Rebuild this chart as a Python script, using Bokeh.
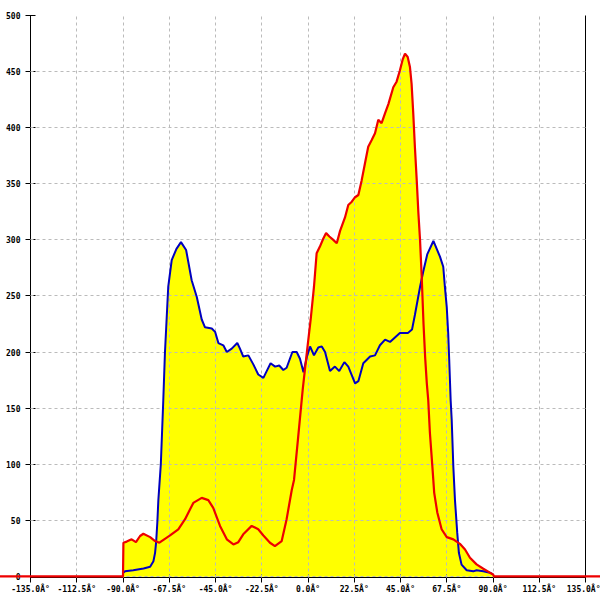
from bokeh.plotting import figure
from bokeh.models import FixedTicker, LinearAxis, Range1d
from bokeh.embed import file_html
from bokeh.resources import INLINE

# ---- data ----
angles_blue = [-90.0, -89.0, -85.0, -80.0, -76.8, -75.2, -74.4, -73.9, -73.3, -72.8, -71.6, -70.4,
               -69.6, -68.0, -66.3, -64.0, -61.8, -59.3, -56.6, -54.1, -51.7, -50.1, -46.8, -45.2,
               -43.6, -41.2, -39.5, -37.1, -34.4, -33.1, -31.5, -29.0, -26.6, -24.2, -21.7, -20.1,
               -18.2, -16.0, -14.0, -12.0, -10.4, -7.6, -5.5, -3.9, -2.2, -0.5, 1.0, 2.9, 5.0, 6.7,
               8.3, 10.7, 13.1, 15.2, 17.7, 19.6, 22.9, 24.5, 26.9, 30.2, 32.6, 35.0, 37.5, 39.9,
               42.3, 44.7, 48.6, 50.6, 52.0, 54.5, 56.1, 58.0, 61.0, 64.2, 65.8, 66.6, 67.5, 68.2,
               68.7, 69.4, 69.9, 70.7, 71.5, 72.6, 73.4, 74.7, 77.2, 80.4, 82.0, 85.3, 88.5, 90.0]
blue_vals = [3, 4.5, 5.5, 7, 8.5, 13.5, 21, 30, 48, 68, 100, 157,
             199, 258, 282, 292, 298, 291, 264, 249, 229, 222, 221, 218,
             208, 206, 200, 203, 208, 203, 196, 197, 189, 180, 177, 183,
             190, 187, 188, 184, 186, 200, 200, 194, 182, 196, 205, 197, 204, 205,
             200, 183, 187, 183, 191, 187, 172, 174, 190, 196, 197, 206, 211, 209,
             213, 217, 217, 220, 233, 258, 272, 287, 299, 285, 276, 258, 240, 217,
             193, 157, 140, 98, 68, 39, 21, 10.5, 5.5, 4.5, 5.5, 4.5, 3.3, 1.8]

angles_red = [-180.0, -90.0, -89.8, -88.2, -85.8, -83.7, -81.7, -80.1, -76.8, -74.4, -72.3, -69.6,
              -67.1, -63.1, -59.8, -55.8, -51.7, -48.5, -46.1, -42.8, -39.5, -36.3, -33.9, -31.5,
              -27.4, -24.2, -21.7, -18.5, -16.1, -12.8, -10.4, -7.9, -6.8, -4.9, -2.6, -0.6, 1.3,
              2.9, 4.2, 5.8, 7.4, 8.8, 10.4, 12.3, 14.0, 15.6, 18.0, 19.6, 21.3, 22.9, 24.5, 26.1,
              27.7, 29.3, 31.0, 32.6, 34.2, 35.8, 37.5, 39.1, 41.5, 43.1, 44.7, 46.1, 47.2, 48.5,
              49.6, 50.4, 51.2, 52.0, 52.9, 53.7, 54.5, 55.3, 56.2, 57.0, 57.8, 58.5, 59.3, 60.5,
              61.4, 62.9, 65.0, 67.5, 70.7, 73.9, 76.4, 78.8, 82.0, 85.3, 88.5, 90.0, 90.5, 180.0]
red_vals = [0, 0, 30, 31, 33, 30.5, 36, 38, 35, 31.5, 30, 33.5,
            36.5, 42, 51, 65.5, 70, 68, 61, 45, 33, 28.5, 30.5, 37.5,
            45, 42, 36.5, 30, 27, 31.5, 51, 77, 86, 122, 166, 199, 229,
            258, 288, 294, 301, 306, 303, 300, 297, 308, 320, 331, 334, 338, 340, 353,
            368, 383, 389, 395, 407, 404, 413, 421, 436, 441, 451, 461, 466, 463,
            454, 439, 413, 383, 353, 324, 300, 268, 225, 195, 172, 157, 128, 98,
            74.5, 57, 42, 35, 33, 29, 24, 16.6, 10.7, 6.8, 3.3, 1.8, 0, 0]

x_ticks = [-135.0, -112.5, -90.0, -67.5, -45.0, -22.5, 0.0, 22.5, 45.0, 67.5, 90.0, 112.5, 135.0]
x_tick_labels = ["-135.0Â°", "-112.5Â°", "-90.0Â°", "-67.5Â°", "-45.0Â°", "-22.5Â°", "0.0Â°",
                 "22.5Â°", "45.0Â°", "67.5Â°", "90.0Â°", "112.5Â°", "135.0Â°"]
y_ticks = [0, 50, 100, 150, 200, 250, 300, 350, 400, 450, 500]

FONT = "DejaVu Sans Mono"

p = figure(width=600, height=600, x_range=Range1d(-135, 135), y_range=Range1d(-1, 500),
           output_backend="svg", toolbar_location=None,
           min_border_left=30, min_border_right=15, min_border_top=15, min_border_bottom=23)
p.outline_line_color = None
p.background_fill_color = "white"
p.border_fill_color = "white"

# fills
p.varea(x=angles_blue, y1=0, y2=blue_vals, fill_color="#FFFF00")
p.varea(x=angles_red, y1=0, y2=red_vals, fill_color="#FFFF00")

# grid over the fill
for g in (p.xgrid, p.ygrid):
    g.level = "guide"
    g.grid_line_color = "#BBBBBB"
    g.grid_line_dash = "3 3"
    g.grid_line_width = 1
p.xgrid.ticker = FixedTicker(ticks=x_ticks)
p.ygrid.ticker = FixedTicker(ticks=y_ticks)

# lines
rb = p.line(angles_blue, blue_vals, line_color="#0000C0", line_width=2)
rr = p.line(angles_red, red_vals, line_color="#EE0000", line_width=2.2)
rb.level = "overlay"
rr.level = "overlay"

# axes
xa = p.xaxis[0]
xa.ticker = FixedTicker(ticks=x_ticks)
xa.major_label_overrides = {t: l for t, l in zip(x_ticks, x_tick_labels)}
xa.major_tick_in = 3
xa.major_tick_out = 5
xa.minor_tick_line_color = None
xa.major_label_standoff = 2
xa.major_label_text_font = FONT
xa.major_label_text_font_size = "8px"
xa.major_label_text_font_style = "bold"
xa.major_label_text_color = "black"
xa.axis_line_color = "black"

ya = p.yaxis[0]
ya.ticker = FixedTicker(ticks=y_ticks)
ya.major_tick_in = 5
ya.major_tick_out = 5
ya.minor_tick_line_color = None
ya.major_label_standoff = 5
ya.major_label_text_font = FONT
ya.major_label_text_font_size = "8px"
ya.major_label_text_font_style = "bold"
ya.major_label_text_color = "black"
ya.axis_line_color = "black"

ra = LinearAxis(ticker=FixedTicker(ticks=[]), major_tick_in=0, major_tick_out=0,
                minor_tick_line_color=None, major_label_standoff=0,
                axis_line_color="black")
p.add_layout(ra, "right")

open("out.html", "w").write(file_html(p, INLINE))
